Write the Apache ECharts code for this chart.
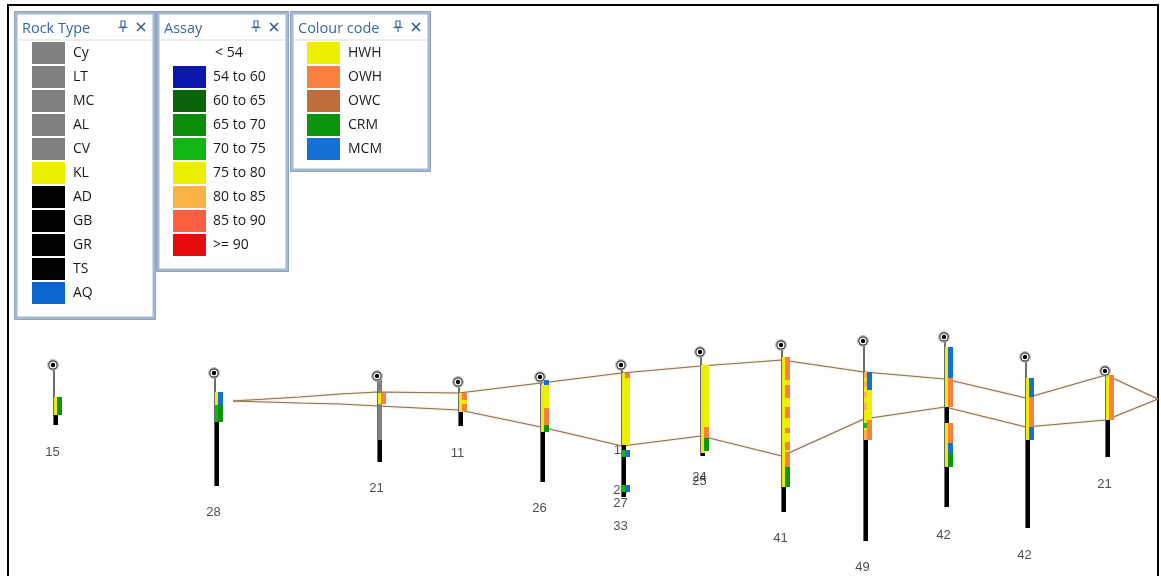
<!DOCTYPE html>
<html><head><meta charset="utf-8">
<script src="https://cdn.jsdelivr.net/npm/echarts@6/dist/echarts.min.js"></script>
<style>html,body{margin:0;padding:0;background:#fff}#c{width:1161px;height:576px}</style>
</head><body><div id="c"></div>
<script>
// ---- legend categories ----
const rockTypes  = ['Cy','LT','MC','AL','CV','KL','AD','GB','GR','TS','AQ'];
const rockColors = ['#808080','#808080','#808080','#808080','#808080','#eeee00','#000000','#000000','#000000','#000000','#0b66d0'];
const assayBins   = ['< 54','54 to 60','60 to 65','65 to 70','70 to 75','75 to 80','80 to 85','85 to 90','>= 90'];
const assayColors = [null,'#0a18ad','#0a640a','#0b8c0b','#12b812','#eeee00','#fdb246','#fd5f40','#e60c0c'];
const assayBreaks = [54,60,65,70,75,80,85,90];
const codeNames  = ['HWH','OWH','OWC','CRM','MCM'];
const codeColors = ['#eeee00','#fb7f3e','#bf6e3a','#0a950a','#1570d6'];

// ---- drillholes (section easting, collar RL, end-of-hole RL; RL grows downward) ----
const holeX      = [54, 215, 378, 459, 541, 622, 701, 782, 864, 945, 1026, 1106];
const holeCollar = [365, 373, 376, 382, 377, 365, 352, 345, 341, 337, 357, 371];
const holeBottom = [425, 486, 462, 426, 482, 497, 456, 512, 541, 507, 528, 457];

// rock type intervals: [hole, from, to, rock]
const rockIntervals = [
  [0,397,415,'KL'],[0,415,425,'AD'],
  [1,392,422,'KL'],[1,422,486,'AD'],
  [2,379,393,'Cy'],[2,393,404,'KL'],[2,404,440,'Cy'],[2,440,462,'AD'],
  [3,393,412,'KL'],[3,412,426,'AD'],
  [4,385,432,'KL'],[4,432,482,'AD'],
  [5,373,445,'KL'],[5,445,497,'AD'],
  [6,365,453,'KL'],[6,453,456,'AD'],
  [7,357,487,'KL'],[7,487,512,'AD'],
  [8,372,440,'KL'],[8,440,541,'AD'],
  [9,347,407,'KL'],[9,407,423,'AD'],[9,423,467,'KL'],[9,467,507,'AD'],
  [10,378,440,'KL'],[10,440,528,'AD'],
  [11,375,420,'KL'],[11,420,457,'AD']
];
// assay intervals: [hole, from, to, grade]
const assayIntervals = [
  [1,405,422,72],
  [5,450,457,72],[5,485,492,72],
  [8,372,378,84],[8,381,387,84],[8,392,397,84],[8,403,410,84],[8,423,428,72],[8,430,440,84]
];
// colour code intervals: [hole, from, to, code]
const codeIntervals = [
  [0,397,415,'CRM'],
  [1,392,405,'MCM'],[1,405,422,'CRM'],
  [2,393,404,'OWH'],
  [3,393,400,'OWH'],[3,400,404,'HWH'],[3,404,411,'OWH'],
  [4,380,385,'MCM'],[4,385,408,'HWH'],[4,408,425,'OWH'],[4,425,432,'CRM'],
  [5,373,378,'OWH'],[5,378,445,'HWH'],[5,450,457,'MCM'],[5,485,492,'MCM'],
  [6,365,427,'HWH'],[6,427,438,'OWH'],[6,438,451,'CRM'],
  [7,357,380,'OWH'],[7,380,385,'HWH'],[7,385,398,'OWH'],[7,398,407,'HWH'],[7,407,418,'OWH'],[7,418,428,'HWH'],
  [7,428,433,'OWH'],[7,433,442,'HWH'],[7,442,450,'OWH'],[7,450,452,'HWH'],[7,452,467,'OWH'],[7,467,487,'CRM'],
  [8,372,390,'MCM'],[8,390,420,'HWH'],[8,420,440,'OWH'],
  [9,347,378,'MCM'],[9,378,407,'OWH'],[9,423,443,'OWH'],[9,443,453,'MCM'],[9,453,467,'CRM'],
  [10,378,397,'MCM'],[10,397,427,'OWH'],[10,427,440,'MCM'],
  [11,375,420,'OWH']
];
// end-of-hole labels: [hole, RL, text]
const holeLabels = [
  [0,452,'15'],[1,512,'28'],[2,488,'21'],[3,453,'11'],[4,508,'26'],
  [5,450,'11'],[5,490,'25'],[5,503,'27'],[5,526,'33'],
  [6,477,'24'],[6,481,'25'],[7,538,'41'],[8,567,'49'],[9,535,'42'],[10,555,'42'],[11,484,'21']
];
// ore-body correlation surfaces
const surfX      = [233, 300, 340, 378, 459, 541, 622, 701, 782, 864, 945, 1026, 1106, 1158];
const surfTopY   = [401, 397, 394, 392, 393, 383, 373, 366, 360, 372, 379, 398, 375, 399];
const surfBotY   = [401, 403, 404, 406, 410, 427, 446, 436, 456, 419, 407, 427, 420, 399];

function assayColor(g){ let k=0; for(let i=0;i<assayBreaks.length;i++) if(g>=assayBreaks[i]) k=i+1; return assayColors[k]; }

const chart = echarts.init(document.getElementById('c'), null, {renderer:'canvas'});

function intervalSeries(list, colorOf, x0, w, z){
  return {
    type:'custom', z:z, silent:true,
    data: list.map(r=>[holeX[r[0]], r[1], r[2]]),
    encode:{x:0, y:[1,2]},
    renderItem:(p, api)=>{
      const a = api.coord([api.value(0), api.value(1)]);
      const b = api.coord([api.value(0), api.value(2)]);
      return {type:'rect', shape:{x:a[0]+x0, y:a[1], width:w, height:b[1]-a[1]}, style:{fill:colorOf(list[p.dataIndex])}};
    }
  };
}

// legend panels (graphic)
const LFONT = '14px "Open Sans", sans-serif';
function panel(x, y, w, h, title, rows, sx, lx){
  const g = [];
  g.push({type:'rect', shape:{x:x, y:y, width:w, height:h}, style:{fill:'#fff', stroke:'#a6b8d2', lineWidth:3}});
  g.push({type:'rect', shape:{x:x-1.5, y:y-1.5, width:w+3, height:h+3}, style:{fill:'none', stroke:'#8ea2c2', lineWidth:1}});
  g.push({type:'line', shape:{x1:x+2, y1:y+27, x2:x+w-2, y2:y+27}, style:{stroke:'#d4deeb', lineWidth:1}});
  g.push({type:'text', style:{text:title, x:x+6, y:y+16, verticalAlign:'middle', font:'14.5px "Open Sans", sans-serif', fill:'#3a66a2'}});
  const px = x+w-33, py = y+8;
  g.push({type:'rect', shape:{x:px, y:py, width:4, height:6}, style:{fill:'none', stroke:'#3a66a2', lineWidth:1.2}});
  g.push({type:'line', shape:{x1:px-2.5, y1:py+6.5, x2:px+6.5, y2:py+6.5}, style:{stroke:'#3a66a2', lineWidth:1.2}});
  g.push({type:'line', shape:{x1:px+2, y1:py+6.5, x2:px+2, y2:py+11}, style:{stroke:'#3a66a2', lineWidth:1.2}});
  const cx = x+w-13, cy = y+14;
  g.push({type:'line', shape:{x1:cx-4, y1:cy-4, x2:cx+4, y2:cy+4}, style:{stroke:'#2f5a94', lineWidth:1.6}});
  g.push({type:'line', shape:{x1:cx+4, y1:cy-4, x2:cx-4, y2:cy+4}, style:{stroke:'#2f5a94', lineWidth:1.6}});
  rows.forEach((r,i)=>{
    if(r.color) g.push({type:'rect', shape:{x:sx, y:42+i*24, width:33, height:22}, style:{fill:r.color}});
    g.push({type:'text', style:{text:r.label, x:r.color?lx:lx+2, y:53+i*24, verticalAlign:'middle', font:LFONT, fill:'#1a1a1a'}});
  });
  return g;
}
const graphics = [].concat(
  [{type:'rect', shape:{x:8, y:5, width:1150, height:600}, style:{fill:'none', stroke:'#000', lineWidth:2}}],
  panel(16, 13, 138, 305, 'Rock Type', rockTypes.map((t,i)=>({label:t, color:rockColors[i]})), 32, 73),
  panel(158, 13, 129, 257, 'Assay', assayBins.map((t,i)=>({label:t, color:assayColors[i]})), 173, 213),
  panel(292, 13, 137, 157, 'Colour code', codeNames.map((t,i)=>({label:t, color:codeColors[i]})), 307, 348)
);

const lineStyle = {color:'#8f6f4d', width:1.2, shadowColor:'rgba(190,160,110,0.6)', shadowBlur:2};
chart.setOption({
  animation:false,
  backgroundColor:'#fff',
  grid:{left:0, right:0, top:0, bottom:0},
  xAxis:{type:'value', min:0, max:1161, show:false},
  yAxis:{type:'value', min:0, max:576, inverse:true, show:false},
  graphic: graphics,
  series:[
    {type:'scatter', z:1, silent:true, symbolSize:0,
     data: holeLabels.map(l=>[holeX[l[0]], l[1]]),
     label:{show:true, position:'inside', offset:[-1.5,0], color:'#222', fontSize:13, fontFamily:'"Liberation Sans", Arial, sans-serif',
            formatter:p=>holeLabels[p.dataIndex][2]}},
    {type:'line', z:2, silent:true, symbol:'none', lineStyle:lineStyle, data:surfX.map((x,i)=>[x, surfTopY[i]])},
    {type:'line', z:2, silent:true, symbol:'none', lineStyle:lineStyle, data:surfX.map((x,i)=>[x, surfBotY[i]])},
    {type:'custom', z:3, silent:true,
     data: holeX.map((x,i)=>[x, holeCollar[i], holeBottom[i]]),
     encode:{x:0, y:[1,2]},
     renderItem:(p, api)=>{
       const a = api.coord([api.value(0), api.value(1)]);
       const b = api.coord([api.value(0), api.value(2)]);
       return {type:'rect', shape:{x:a[0]-1, y:a[1], width:2, height:b[1]-a[1]}, style:{fill:'#6c6c6c'}};
     }},
    intervalSeries(rockIntervals, r=>rockColors[rockTypes.indexOf(r[3])], 0, 4, 4),
    intervalSeries(assayIntervals, r=>assayColor(r[3]), 0, 3, 5),
    intervalSeries(codeIntervals, r=>codeColors[codeNames.indexOf(r[3])], 3, 5, 5),
    {type:'custom', z:6, silent:true,
     data: holeX.map((x,i)=>[x, holeCollar[i]]),
     encode:{x:0, y:1},
     renderItem:(p, api)=>{
       const c = api.coord([api.value(0), api.value(1)]);
       return {type:'group', children:[
         {type:'circle', shape:{cx:c[0]-1, cy:c[1], r:5.5}, style:{fill:'#fff', stroke:'rgba(120,120,120,0.5)', lineWidth:1}},
         {type:'circle', shape:{cx:c[0]-1, cy:c[1], r:4.2}, style:{fill:'#fff', stroke:'#333', lineWidth:1.2}},
         {type:'circle', shape:{cx:c[0]-1, cy:c[1], r:2.2}, style:{fill:'#000'}}
       ]};
     }}
  ]
});
</script></body></html>
